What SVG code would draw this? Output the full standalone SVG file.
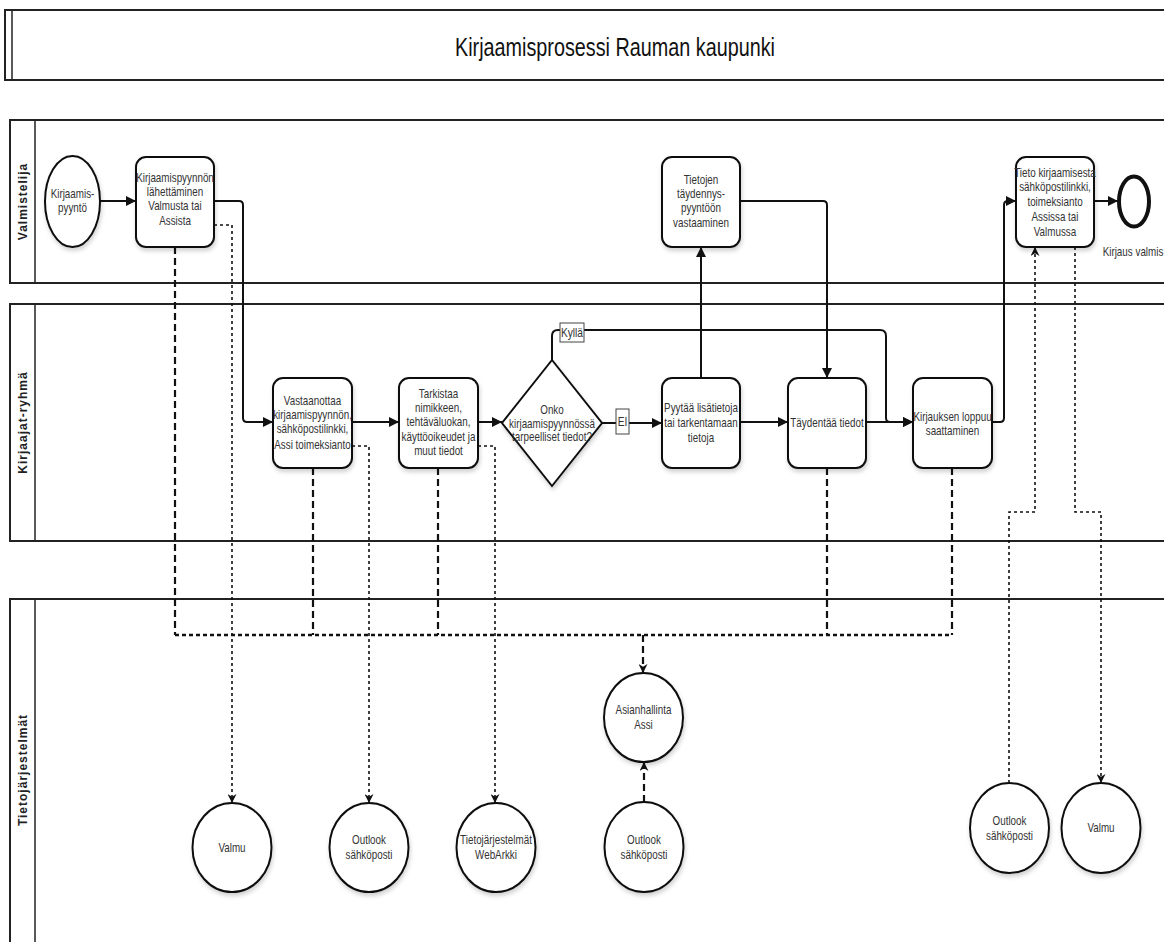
<svg xmlns="http://www.w3.org/2000/svg" width="1164" height="942" viewBox="0 0 1164 942">
<style>
.lane{fill:#fff;stroke:#222;stroke-width:2}
.ln{stroke:#222;stroke-width:1.5;fill:none}
.task{fill:#fff;stroke:#111;stroke-width:2;filter:url(#sh)}
.circ{fill:#fff;stroke:#111;stroke-width:2;filter:url(#sh)}
.t{font-family:"Liberation Sans",Arial,sans-serif;font-size:12px;fill:#333;text-anchor:middle}
.lt{font-family:"Liberation Sans","DejaVu Sans",sans-serif;font-size:12px;font-weight:bold;fill:#222;text-anchor:middle;letter-spacing:1px}
.seq{fill:none;stroke:#111;stroke-width:2}
.dot{fill:none;stroke:#111;stroke-width:1.6;stroke-dasharray:3 3}
.dash{fill:none;stroke:#111;stroke-width:2.2;stroke-dasharray:7 4}
.trunk{fill:none;stroke:#111;stroke-width:2.5;stroke-dasharray:4 3}
.lbl{fill:#fff;stroke:#444;stroke-width:1}
</style>
<defs>
<filter id="sh" x="-20%" y="-20%" width="140%" height="150%"><feDropShadow dx="1" dy="3" stdDeviation="2" flood-color="#000" flood-opacity="0.18"/></filter>
<marker id="arr" viewBox="0 0 10 10" refX="10" refY="5" markerWidth="10" markerHeight="10" markerUnits="userSpaceOnUse" orient="auto"><path d="M0,0 L10,5 L0,10 z" fill="#111"/></marker>
<marker id="arrs" viewBox="0 0 10 10" refX="10" refY="5" markerWidth="9" markerHeight="9" markerUnits="userSpaceOnUse" orient="auto"><path d="M0,0 L10,5 L0,10 L3,5 z" fill="#111"/></marker>
</defs>
<rect width="1164" height="942" fill="#fff"/>

<g id="header">
<rect class="lane" x="5" y="10" width="1200" height="70"/>
<line class="ln" x1="12" y1="10" x2="12" y2="80"/>
<text x="615" y="56" font-family="'Liberation Sans',Arial,sans-serif" font-size="25" fill="#111" text-anchor="middle" textLength="320" lengthAdjust="spacingAndGlyphs">Kirjaamisprosessi Rauman kaupunki</text>
</g>

<g id="lane-valmistelija">
<rect class="lane" x="10" y="120" width="1200" height="163"/>
<line class="ln" x1="35" y1="120" x2="35" y2="283"/>
<text class="lt" transform="translate(27,201.5) rotate(-90)">Valmistelija</text>
</g>
<g id="lane-kirjaajat">
<rect class="lane" x="10" y="304" width="1200" height="237"/>
<line class="ln" x1="35" y1="304" x2="35" y2="541"/>
<text class="lt" transform="translate(27,422.5) rotate(-90)">Kirjaajat-ryhmä</text>
</g>
<g id="lane-tieto">
<rect class="lane" x="10" y="599" width="1200" height="360"/>
<line class="ln" x1="35" y1="599" x2="35" y2="959"/>
<text class="lt" transform="translate(27,770) rotate(-90)">Tietojärjestelmät</text>
</g>

<g id="connectors">
<path class="seq" d="M100,201 H136" marker-end="url(#arr)"/>
<path class="seq" d="M214,201 H239 Q243,201 243,205 V418 Q243,422 247,422 H273" marker-end="url(#arr)"/>
<path class="seq" d="M352,422 H399" marker-end="url(#arr)"/>
<path class="seq" d="M478,422 H502" marker-end="url(#arr)"/>
<path class="seq" d="M552,360 V336 Q552,330 558,330 H880 Q886,330 886,336 V418 Q886,422 890,422 H913" marker-end="url(#arr)"/>
<path class="seq" d="M602,423 H662" marker-end="url(#arr)"/>
<path class="seq" d="M701,378 V247" marker-end="url(#arr)"/>
<path class="seq" d="M740,201 H823 Q827,201 827,205 V378" marker-end="url(#arr)"/>
<path class="seq" d="M740,422 H788" marker-end="url(#arr)"/>
<path class="seq" d="M866,422 H913" marker-end="url(#arr)"/>
<path class="seq" d="M992,422 H1000 Q1004,422 1004,418 V205 Q1004,201 1008,201 H1016" marker-end="url(#arr)"/>
<path class="seq" d="M1094,201 H1118" marker-end="url(#arr)"/>

<path class="dot" d="M214,225 H232 V803" marker-end="url(#arrs)"/>
<path class="dot" d="M352,446 H369 V803" marker-end="url(#arrs)"/>
<path class="dot" d="M478,446 H495 V803" marker-end="url(#arrs)"/>
<path class="dot" d="M1009,783 V512 H1035 V247" marker-end="url(#arrs)"/>
<path class="dot" d="M1075,247 V512 H1101 V783" marker-end="url(#arrs)"/>

<path class="dash" d="M175,247 V635"/>
<path class="dash" d="M313,468 V635"/>
<path class="dash" d="M438,468 V635"/>
<path class="dash" d="M827,468 V635"/>
<path class="dash" d="M952,468 V635"/>
<path class="trunk" d="M175,635 H952"/>
<path class="dash" d="M643,635 V673" marker-end="url(#arrs)"/>
<path class="dash" d="M644,802 V762" marker-end="url(#arrs)"/>

<rect class="lbl" x="560" y="323" width="24" height="19"/>
<g transform="translate(572,0) scale(0.85,1)"><text class="t" x="0" y="337" fill="#222">Kyllä</text></g>
<rect class="lbl" x="616" y="409" width="13" height="25"/>
<g transform="translate(622.5,0) scale(0.85,1)"><text class="t" x="0" y="426" fill="#222">EI</text></g>
</g>

<g id="start">
<ellipse class="circ" cx="72.5" cy="201.5" rx="27.5" ry="45.5"/>
<g transform="translate(72.5,0) scale(0.82,1)">
<text class="t" x="0" y="198">Kirjaamis-</text>
<text class="t" x="0" y="212">pyyntö</text>
</g>
</g>
<g id="task-lahettaminen">
<rect class="task" x="136" y="157" width="78" height="90" rx="10"/>
<g transform="translate(175,0) scale(0.82,1)">
<text class="t" x="0" y="182">Kirjaamispyynnön</text>
<text class="t" x="0" y="196">lähettäminen</text>
<text class="t" x="0" y="210">Valmusta tai</text>
<text class="t" x="0" y="225">Assista</text>
</g>
</g>
<g id="task-tietojen">
<rect class="task" x="662" y="157" width="78" height="90" rx="10"/>
<g transform="translate(701,0) scale(0.82,1)">
<text class="t" x="0" y="184">Tietojen</text>
<text class="t" x="0" y="198">täydennys-</text>
<text class="t" x="0" y="212">pyyntöön</text>
<text class="t" x="0" y="227">vastaaminen</text>
</g>
</g>
<g id="task-tieto">
<rect class="task" x="1016" y="157" width="78" height="90" rx="10"/>
<g transform="translate(1055,0) scale(0.82,1)">
<text class="t" x="0" y="177">Tieto kirjaamisesta</text>
<text class="t" x="0" y="191">sähköpostilinkki,</text>
<text class="t" x="0" y="206">toimeksianto</text>
<text class="t" x="0" y="221">Assissa tai</text>
<text class="t" x="0" y="236">Valmussa</text>
</g>
</g>
<g id="end">
<ellipse cx="1134" cy="201.5" rx="15" ry="25" fill="#fff" stroke="#111" stroke-width="4"/>
<g transform="translate(1133,0) scale(0.82,1)">
<text class="t" x="0" y="256">Kirjaus valmis</text>
</g>
</g>
<g id="task-vastaanottaa">
<rect class="task" x="273" y="378" width="79" height="90" rx="10"/>
<g transform="translate(312.5,0) scale(0.82,1)">
<text class="t" x="0" y="405">Vastaanottaa</text>
<text class="t" x="0" y="419">kirjaamispyynnön,</text>
<text class="t" x="0" y="433">sähköpostilinkki,</text>
<text class="t" x="0" y="449">Assi toimeksianto</text>
</g>
</g>
<g id="task-tarkistaa">
<rect class="task" x="399" y="378" width="79" height="90" rx="10"/>
<g transform="translate(438.5,0) scale(0.82,1)">
<text class="t" x="0" y="398">Tarkistaa</text>
<text class="t" x="0" y="412">nimikkeen,</text>
<text class="t" x="0" y="426">tehtäväluokan,</text>
<text class="t" x="0" y="441">käyttöoikeudet ja</text>
<text class="t" x="0" y="455">muut tiedot</text>
</g>
</g>
<g id="gateway">
<path d="M552,360 L602,423 L552,486 L502,423 Z" fill="#fff" stroke="#111" stroke-width="2" filter="url(#sh)"/>
<g transform="translate(552,0) scale(0.82,1)">
<text class="t" x="0" y="414">Onko</text>
<text class="t" x="0" y="428">kirjaamispyynnössä</text>
<text class="t" x="0" y="441">tarpeelliset tiedot?</text>
</g>
</g>
<g id="task-pyytaa">
<rect class="task" x="662" y="378" width="78" height="90" rx="10"/>
<g transform="translate(701,0) scale(0.82,1)">
<text class="t" x="0" y="412">Pyytää lisätietoja</text>
<text class="t" x="0" y="427">tai tarkentamaan</text>
<text class="t" x="0" y="442">tietoja</text>
</g>
</g>
<g id="task-taydentaa">
<rect class="task" x="788" y="378" width="78" height="90" rx="10"/>
<g transform="translate(827,0) scale(0.82,1)">
<text class="t" x="0" y="427">Täydentää tiedot</text>
</g>
</g>
<g id="task-kirjauksen">
<rect class="task" x="913" y="378" width="79" height="90" rx="10"/>
<g transform="translate(952.5,0) scale(0.82,1)">
<text class="t" x="0" y="421">Kirjauksen loppuu</text>
<text class="t" x="0" y="435">saattaminen</text>
</g>
</g>
<g id="sys-valmu1">
<ellipse class="circ" cx="232" cy="847.5" rx="39.5" ry="44.5"/>
<g transform="translate(232,0) scale(0.82,1)"><text class="t" x="0" y="852">Valmu</text></g>
</g>
<g id="sys-outlook1">
<ellipse class="circ" cx="369" cy="847.5" rx="39.5" ry="44.5"/>
<g transform="translate(369,0) scale(0.82,1)">
<text class="t" x="0" y="844">Outlook</text>
<text class="t" x="0" y="859">sähköposti</text>
</g>
</g>
<g id="sys-webarkki">
<ellipse class="circ" cx="496" cy="847.5" rx="39.5" ry="44.5"/>
<g transform="translate(496,0) scale(0.82,1)">
<text class="t" x="0" y="844">Tietojärjestelmät</text>
<text class="t" x="0" y="859">WebArkki</text>
</g>
</g>
<g id="sys-assi">
<ellipse class="circ" cx="643.5" cy="717.5" rx="39.5" ry="44.5"/>
<g transform="translate(643.5,0) scale(0.82,1)">
<text class="t" x="0" y="714">Asianhallinta</text>
<text class="t" x="0" y="729">Assi</text>
</g>
</g>
<g id="sys-outlook2">
<ellipse class="circ" cx="644" cy="847" rx="39.5" ry="45"/>
<g transform="translate(644,0) scale(0.82,1)">
<text class="t" x="0" y="844">Outlook</text>
<text class="t" x="0" y="859">sähköposti</text>
</g>
</g>
<g id="sys-outlook3">
<ellipse class="circ" cx="1009.5" cy="828" rx="39.5" ry="45"/>
<g transform="translate(1009.5,0) scale(0.82,1)">
<text class="t" x="0" y="825">Outlook</text>
<text class="t" x="0" y="840">sähköposti</text>
</g>
</g>
<g id="sys-valmu2">
<ellipse class="circ" cx="1101" cy="828" rx="39.5" ry="45"/>
<g transform="translate(1101,0) scale(0.82,1)"><text class="t" x="0" y="832">Valmu</text></g>
</g>
</svg>
